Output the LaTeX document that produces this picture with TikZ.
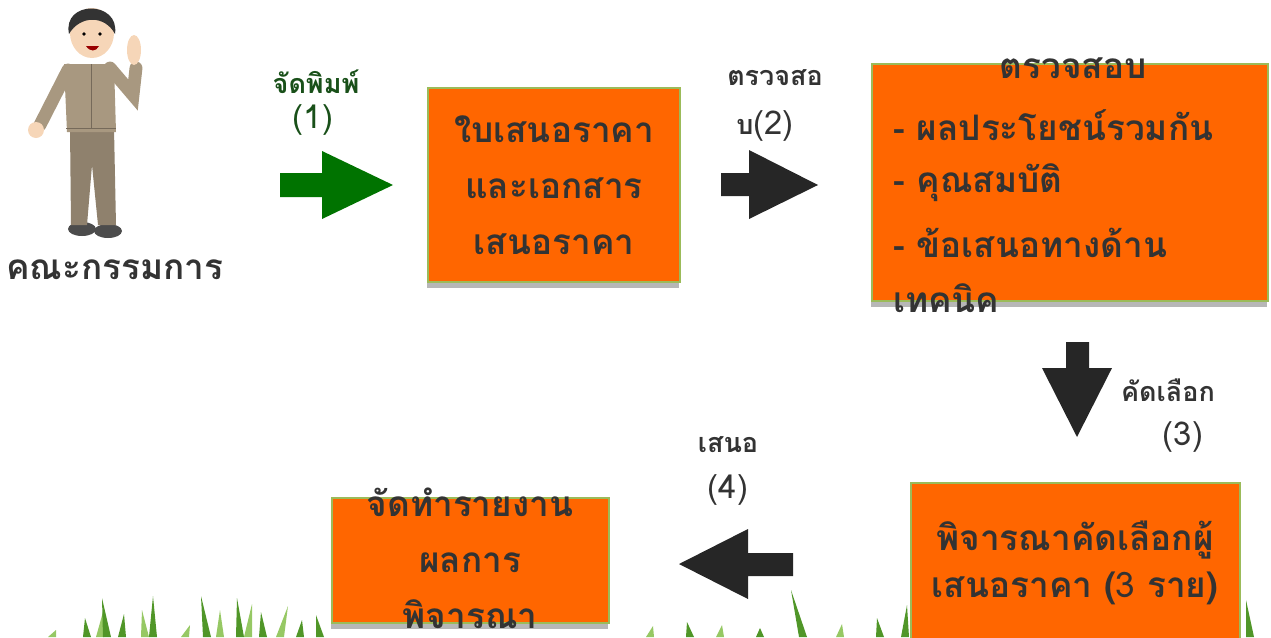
\documentclass[tikz,border=0pt]{standalone}
\usepackage{fontspec}
\newfontfamily\thaifont[Script=Thai]{Loma}
\usetikzlibrary{shadows}
\definecolor{boxorange}{RGB}{255,102,0}
\definecolor{boxedge}{RGB}{155,187,89}
\definecolor{inkgrey}{RGB}{51,51,51}
\definecolor{arrowgrey}{RGB}{38,38,38}
\definecolor{printgreen}{RGB}{0,115,0}
\definecolor{labelgreen}{RGB}{25,80,25}
\definecolor{uniform}{RGB}{168,152,128}
\definecolor{skin}{RGB}{246,214,184}
\definecolor{grassdark}{RGB}{80,150,40}
\definecolor{grasslight}{RGB}{150,200,100}

\tikzset{
  ob/.style={draw=boxedge,line width=1.2pt,fill=boxorange,inner sep=0pt,
    drop shadow={fill=black!40,shadow xshift=-1pt,shadow yshift=-5pt,opacity=0.7}},
  bt/.style={text=inkgrey,font=\thaifont\bfseries\fontsize{30}{48}\selectfont,align=center,inner sep=0pt},
  lb/.style={text=inkgrey,font=\thaifont\bfseries\fontsize{23}{24}\selectfont,inner sep=0pt},
  num/.style={text=inkgrey,font=\thaifont\fontsize{28}{28}\selectfont,inner sep=0pt},
  blade/.style={fill=grassdark}
}

\begin{document}
\begin{tikzpicture}[x=0.03cm,y=-0.03cm]
\useasboundingbox (0,0) rectangle (1271,637);

% grass along the bottom
\foreach \gx/\gd/\gt/\gc in {52/4/630/grasslight,87/-2/618/grassdark,100/3/612/grasslight,
    107/-5/598/grassdark,122/2/614/grassdark,145/-3/610/grasslight,153/0/596/grassdark,
    185/5/625/grasslight,207/-6/596/grassdark,220/0/610/grasslight,240/-3/598/grassdark,
    248/4/604/grasslight,263/-2/612/grassdark,280/8/606/grasslight,300/2/620/grassdark,
    320/-4/615/grassdark,
    650/3/626/grasslight,690/-3/622/grassdark,720/2/625/grasslight,760/0/628/grassdark,
    803/-12/590/grassdark,840/2/624/grasslight,880/-3/618/grassdark,905/2/605/grassdark,
    960/4/615/grasslight,995/-6/595/grassdark,1030/3/620/grasslight,1250/-4/600/grassdark}{
  \fill[\gc] (\gx-4,637) -- (\gx+\gd,\gt) -- (\gx+4,637) -- cycle;
}

% committee member
\fill[black!70] (82,229) ellipse (14 and 7);
\fill[black!70] (108,231) ellipse (14 and 7);
\fill[uniform!85!black] (70,128) -- (114,128) -- (116,225) -- (98,225) -- (92,165)
  -- (87,225) -- (71,225) -- cycle;
\draw[uniform,line width=11pt,line cap=round] (68,70) -- (40,125);
\fill[skin] (36,130) circle (8);
\draw[uniform,line width=11pt,line cap=round] (110,68) -- (133,95) -- (136,68);
\fill[skin] (134,50) ellipse (7 and 15);
\fill[uniform] (64,64) -- (114,64) -- (116,132) -- (67,132) -- cycle;
\draw[uniform!70!black] (66,128) -- (116,128);
\draw[uniform!70!black] (91,64) -- (91,128);
\fill[skin] (92,33) ellipse (22 and 25);
\fill[black!80] (69,34) .. controls (62,0) and (120,0) .. (115,34)
  .. controls (105,15) and (80,15) .. (69,34);
\fill[black] (84,34) circle (1.8) (100,34) circle (1.8);
\fill[red!60!black] (86,46) .. controls (90,52) and (96,52) .. (99,46) -- cycle;
\node[bt,anchor=center] (committee) at (115,270) {คณะกรรมการ};

% boxes
\node[ob,minimum width=7.56cm,minimum height=5.82cm] (offer) at (554,185) {};
\node[ob,minimum width=11.88cm,minimum height=7.11cm] (check) at (1070,182.5) {};
\node[ob,minimum width=9.87cm,minimum height=5.01cm] (select) at (1075.5,566.5) {};
\node[ob,minimum width=8.31cm,minimum height=3.75cm] (report) at (470.5,560.5) {};

\node[bt] (offertext) at (offer.center) {ใบเสนอราคา\\และเอกสาร\\เสนอราคา};
\node[bt] (checkhead) at (1073,68) {ตรวจสอบ};
\node[bt,anchor=west] (itema) at (893,125) {- ผลประโยชน์รวมกัน};
\node[bt,anchor=west] (itemb) at (893,183) {- คุณสมบัติ};
\node[bt,anchor=west] (itemc) at (893,243) {- ข้อเสนอทางด้าน};
\node[bt,anchor=west] (itemd) at (893,298) {เทคนิค};
\node[bt,font=\thaifont\bfseries\fontsize{30}{40}\selectfont] (selecttext) at (1075,563)
  {พิจารณาคัดเลือกผู้\\เสนอราคา ({\mdseries 3} ราย)};
\node[bt] (reporttext) at (470,558) {จัดทำรายงาน\\ผลการ\\พิจารณา};

% block arrows
\fill[printgreen] (280,173) -- (322,173) -- (322,151) -- (393,185) -- (322,219)
  -- (322,197) -- (280,197) -- cycle;
\fill[arrowgrey] (721,173) -- (749,173) -- (749,150) -- (818,185) -- (749,219)
  -- (749,196) -- (721,196) -- cycle;
\fill[arrowgrey] (1066,342) -- (1089,342) -- (1089,368) -- (1112,368) -- (1077,437)
  -- (1042,368) -- (1066,368) -- cycle;
\fill[arrowgrey] (793,553) -- (748,553) -- (748,529) -- (679,564) -- (748,599)
  -- (748,576) -- (793,576) -- cycle;

% arrow labels
\node[lb,text=labelgreen] (printlbl) at (316,82) {จัดพิมพ์};
\node[num,text=labelgreen] (printnum) at (313,120) {(1)};
\node[lb] (checklbl) at (775,78) {ตรวจสอ};
\node[lb] (checknum) at (765,126) {บ{\mdseries\fontsize{28}{28}\selectfont(2)}};
\node[lb] (picklbl) at (1168,390) {คัดเลือก};
\node[num] (picknum) at (1183,437) {(3)};
\node[lb] (sendlbl) at (728,445) {เสนอ};
\node[num] (sendnum) at (728,490) {(4)};
\end{tikzpicture}
\end{document}
